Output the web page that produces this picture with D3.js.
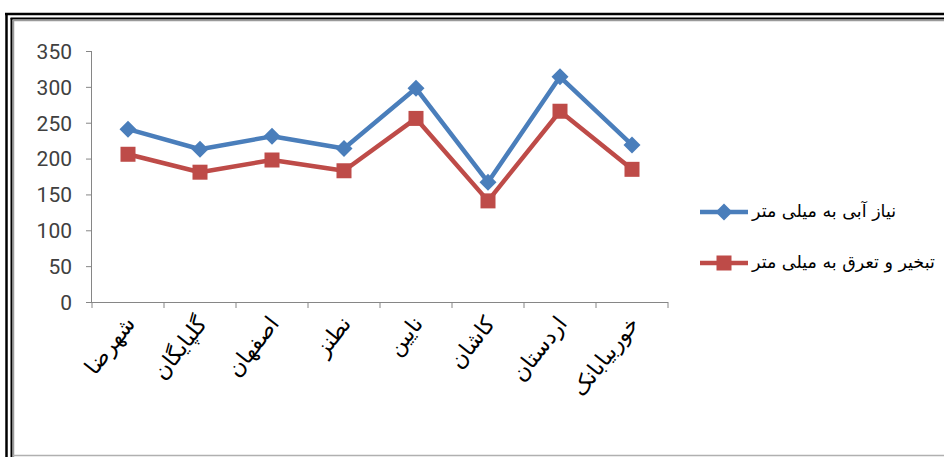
<!DOCTYPE html>
<html><head><meta charset="utf-8">
<script src="https://cdnjs.cloudflare.com/ajax/libs/d3/7.8.5/d3.min.js"></script>
<style>
html,body{margin:0;padding:0;background:#fff;overflow:hidden}
svg{display:block}
</style></head>
<body>
<svg id="chart" width="944" height="457"></svg>
<script>
const categories = ["شهرضا","گلپایگان","اصفهان","نطنز","نایین","کاشان","اردستان","خوربیابانک"];
const waterNeed = [241, 213, 231, 214, 298, 167, 314, 219];
const evapotranspiration = [206, 181, 198, 183, 256, 141, 266, 185];
const seriesNames = ["نیاز آبی به میلی متر","تبخیر و تعرق به میلی متر"];
const yTicks = [0, 50, 100, 150, 200, 250, 300, 350];

const svg = d3.select("#chart");
const W = 944, H = 457;
svg.append("rect").attr("width", W).attr("height", H).attr("fill", "#fff");

// frame
svg.append("line").attr("x1",6.5).attr("x2",6.5).attr("y1",13).attr("y2",H).attr("stroke","#000").attr("stroke-width",2.5);
svg.append("line").attr("x1",5).attr("x2",W).attr("y1",14).attr("y2",14).attr("stroke","#000").attr("stroke-width",2.5);
svg.append("line").attr("x1",11.5).attr("x2",11.5).attr("y1",18).attr("y2",H).attr("stroke","#000").attr("stroke-width",2);
svg.append("line").attr("x1",10.5).attr("x2",W).attr("y1",18.5).attr("y2",18.5).attr("stroke","#000").attr("stroke-width",2);
svg.append("line").attr("x1",13.5).attr("x2",13.5).attr("y1",20).attr("y2",H).attr("stroke","#9a9a9a").attr("stroke-width",1.5);
svg.append("line").attr("x1",12.5).attr("x2",W).attr("y1",20.5).attr("y2",20.5).attr("stroke","#9a9a9a").attr("stroke-width",1.5);
svg.append("line").attr("x1",13).attr("x2",W).attr("y1",455.5).attr("y2",455.5).attr("stroke","#b0b0b0").attr("stroke-width",1.5);

const x0 = 92, x1 = 668, yTop = 51, yBot = 302;
const x = d3.scaleBand().domain(categories).range([x0, x1]);
const y = d3.scaleLinear().domain([0, 350]).range([yBot, yTop]);

const axisColor = "#868686";
// y axis
const yAxis = svg.append("g").attr("transform", `translate(${x0},0)`)
  .call(d3.axisLeft(y).tickValues(yTicks).tickSize(6).tickPadding(14).tickFormat(d3.format("d")));
yAxis.select(".domain").attr("stroke", axisColor).attr("d", `M-0.5,${yTop}V${yBot}`);
yAxis.selectAll(".tick line").attr("stroke", axisColor);
yAxis.selectAll(".tick text").attr("fill", "#404040").attr("font-family", "Roboto, sans-serif").attr("font-size", 21).attr("dy","0.35em");

// x axis
const xAxis = svg.append("g").attr("transform", `translate(0,${yBot})`)
  .call(d3.axisBottom(x).tickSize(0).tickFormat(""));
xAxis.select(".domain").attr("stroke", axisColor).attr("d", `M${x0},0.5H${x1}`);
xAxis.selectAll(".tick").remove();
const bounds = categories.map(c => x(c)).concat([x1]);
xAxis.selectAll("line.b").data(bounds).join("line").attr("class","b")
  .attr("x1", d => d).attr("x2", d => d).attr("y1", 0).attr("y2", 6).attr("stroke", axisColor);

// x labels
svg.append("g").selectAll("text").data(categories).join("text")
  .attr("transform", d => `translate(${x(d) + x.bandwidth()/2 + 8},${yBot + 22}) rotate(-52)`)
  .attr("text-anchor", "end")
  .attr("font-family", "'DejaVu Sans', sans-serif")
  .attr("font-size", 22)
  .attr("fill", "#000")
  .text(d => d);

const cx = d => x(d) + x.bandwidth()/2;
const blue = "#4A7EBB", red = "#BE4B48";

function drawSeries(vals, color, marker) {
  const line = d3.line().x((d,i) => cx(categories[i])).y(d => y(d));
  svg.append("path").datum(vals).attr("d", line).attr("fill","none")
    .attr("stroke", color).attr("stroke-width", 4.5).attr("stroke-linejoin","round");
  const g = svg.append("g");
  vals.forEach((v,i) => {
    drawMarker(g, cx(categories[i]), y(v), color, marker);
  });
}
function drawMarker(g, px, py, color, marker) {
  if (marker === "diamond") {
    const s = 8.5;
    g.append("path").attr("d", `M${px},${py-s}L${px+s},${py}L${px},${py+s}L${px-s},${py}Z`).attr("fill", color);
  } else {
    const s = 15;
    g.append("rect").attr("x", px - s/2).attr("y", py - s/2).attr("width", s).attr("height", s).attr("fill", color);
  }
}
drawSeries(waterNeed, blue, "diamond");
drawSeries(evapotranspiration, red, "square");

// legend
const legend = svg.append("g");
const legendRows = [
  {name: seriesNames[0], color: blue, marker: "diamond", y: 212},
  {name: seriesNames[1], color: red, marker: "square", y: 263}
];
legendRows.forEach(r => {
  legend.append("line").attr("x1", 700).attr("x2", 748).attr("y1", r.y).attr("y2", r.y)
    .attr("stroke", r.color).attr("stroke-width", 4.5);
  drawMarker(legend, 724, r.y, r.color, r.marker);
  legend.append("text").attr("x", 752).attr("y", r.y).attr("dy", "0.3em")
    .attr("text-anchor", "start")
    .attr("font-family", "'DejaVu Sans', sans-serif").attr("font-size", 17.5).attr("fill", "#000")
    .text(r.name);
});
</script>
</body></html>
